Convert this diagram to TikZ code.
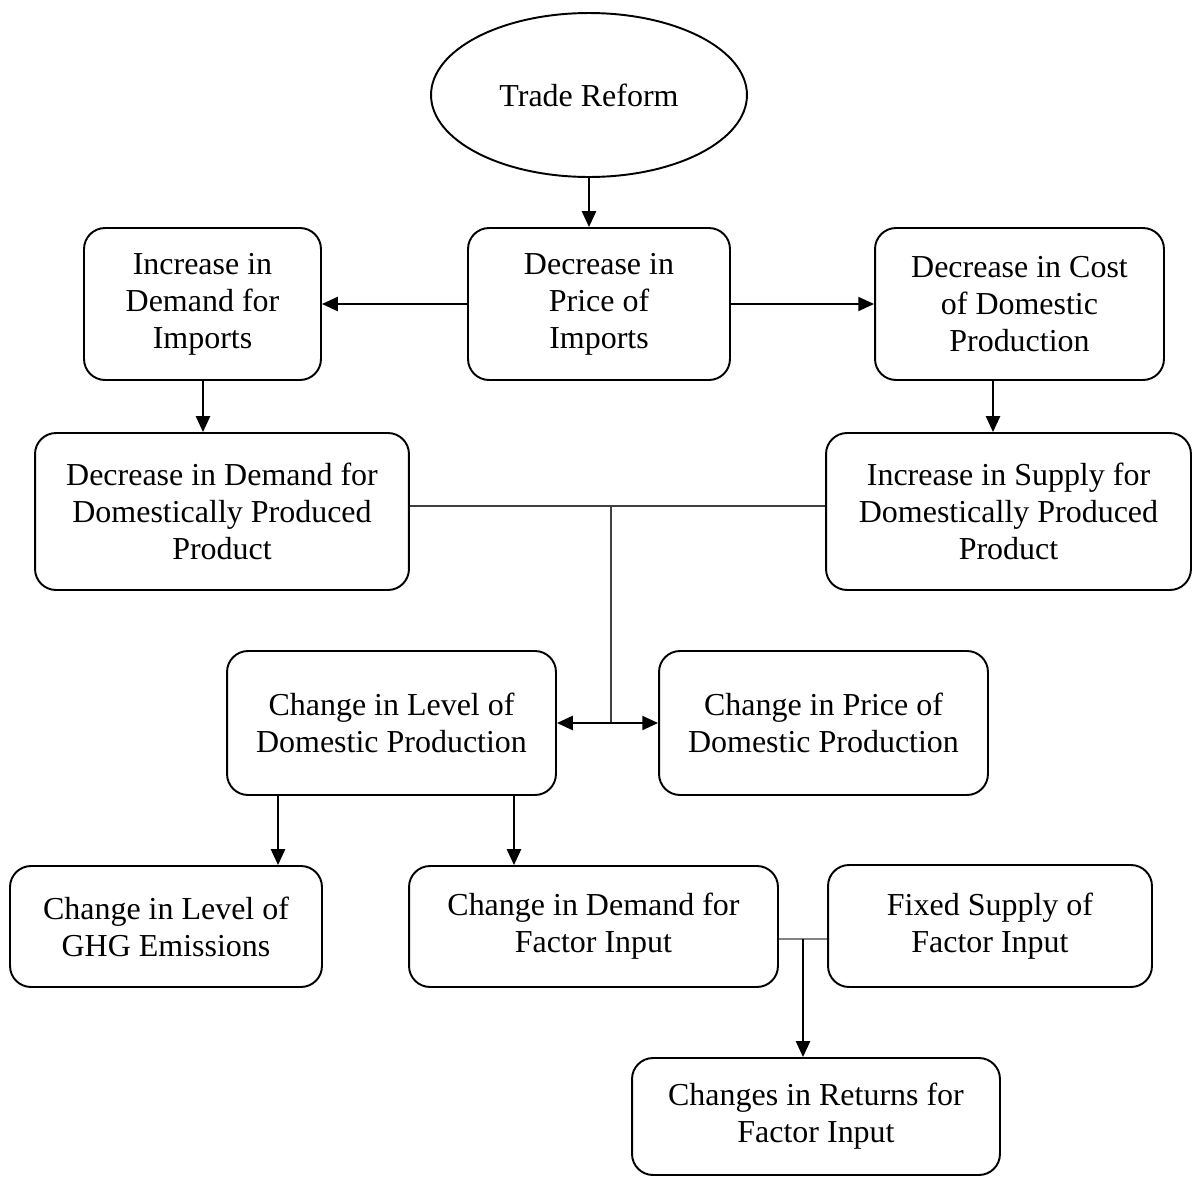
\documentclass[tikz,border=0pt]{standalone}
\usepackage{fontspec}
\setmainfont{Liberation Serif}
\usepackage{tikz}
\usetikzlibrary{shapes, arrows.meta, positioning}

\tikzset{
  box/.style={draw, line width=1.1pt, rounded corners=0.42cm, align=center, inner sep=0pt,
    font=\fontsize{18.2}{21}\selectfont},
  arr/.style={draw=black, line width=1.15pt, -{Triangle[length=9pt,width=8pt]}},
  link/.style={draw=black!75, line width=0.6pt}
}

\begin{document}
\begin{tikzpicture}[x=0.02cm, y=-0.02cm]
        \useasboundingbox (0,0) rectangle (1198,1177);
        \begin{scope}[every node/.style={box}]
          \node[ellipse, rounded corners=0pt, minimum width=6.32cm, minimum height=3.28cm] (trade) at (589,95) {Trade Reform};
          \node[minimum width=5.24cm, minimum height=3.04cm] (price) at (599,304) {Decrease in\\Price of\\Imports};
          \node[minimum width=4.74cm, minimum height=3.04cm] (incdem) at (202.5,304) {Increase in\\Demand for\\Imports};
          \node[minimum width=5.78cm, minimum height=3.04cm] (cost) at (1019.5,304) {Decrease in Cost\\of Domestic\\Production};
          \node[minimum width=7.48cm, minimum height=3.14cm] (decdem) at (222,511.5) {Decrease in Demand for\\Domestically Produced\\Product};
          \node[minimum width=7.30cm, minimum height=3.14cm] (incsup) at (1008.5,511.5) {Increase in Supply for\\Domestically Produced\\Product};
          \node[minimum width=6.58cm, minimum height=2.88cm] (level) at (391.5,723) {Change in Level of\\Domestic Production};
          \node[minimum width=6.58cm, minimum height=2.88cm] (pricedom) at (823.5,723) {Change in Price of\\Domestic Production};
          \node[minimum width=6.24cm, minimum height=2.42cm] (ghg) at (166,926.5) {Change in Level of\\GHG Emissions};
          \node[minimum width=7.38cm, minimum height=2.42cm] (factor) at (593.5,926.5) {Change in Demand for\\Factor Input};
          \node[minimum width=6.48cm, minimum height=2.44cm] (fixed) at (990,926) {Fixed Supply of\\Factor Input};
          \node[minimum width=7.36cm, minimum height=2.34cm] (returns) at (816,1116.5) {Changes in Returns for\\Factor Input};
        \end{scope}
        % arrows
        \draw[arr] (trade.south) -- (trade.south |- price.north);
        \draw[arr] (price.west) -- (incdem.east);
        \draw[arr] (price.east) -- (cost.west);
        \draw[arr] ([xshift=0.01cm]incdem.south) -- ([xshift=0.01cm]incdem.south |- decdem.north);
        \draw[arr] ([xshift=-0.53cm]cost.south) -- ([xshift=-0.53cm]cost.south |- incsup.north);
        \draw[arr] ([xshift=-2.27cm]level.south) -- ([xshift=-2.27cm]level.south |- ghg.north);
        \draw[arr] ([xshift=2.45cm]level.south) -- ([xshift=2.45cm]level.south |- factor.north);
        % joining lines
        \coordinate (split) at (611,506);
        \draw[link] ([yshift=0.11cm]decdem.east) -- ([yshift=0.11cm]incsup.west);
        \draw[link] (split) -- (split |- level.east);
        \draw[draw=black, line width=1.15pt, {Triangle[length=9pt,width=8pt]}-{Triangle[length=9pt,width=8pt]}] (level.east) -- (pricedom.west);
        \coordinate (tee) at (803,939);
        \draw[link] ([yshift=-0.25cm]factor.east) -- ([yshift=-0.26cm]fixed.west);
        \draw[arr] (tee) -- (tee |- returns.north);
      \end{tikzpicture}
\end{document}
